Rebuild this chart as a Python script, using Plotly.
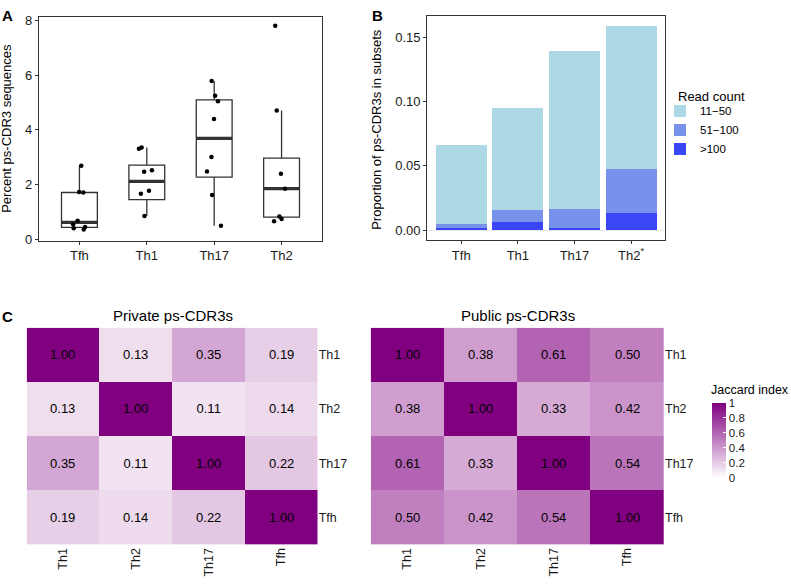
import plotly.graph_objects as go

W, H = 791, 586
FONT = "Liberation Sans, Arial, sans-serif"

# ---------- Panel A data ----------
subsets_a = ["Tfh", "Th1", "Th17", "Th2"]
box_q1 = [0.43, 1.45, 2.27, 0.81]
box_median = [0.62, 2.12, 3.69, 1.85]
box_q3 = [1.71, 2.71, 5.10, 2.97]
box_lower = [0.43, 0.85, 0.49, 0.81]
box_upper = [2.70, 3.36, 5.79, 4.71]
pts_tfh = [2.69, 1.73, 1.71, 0.68, 0.55, 0.45, 0.40, 0.36]
pts_th1 = [3.36, 3.31, 2.52, 2.47, 1.77, 1.66, 0.85]
pts_th17 = [5.79, 5.25, 5.05, 4.40, 3.01, 2.48, 1.62, 0.49]
pts_th2 = [7.81, 4.71, 2.40, 1.85, 0.83, 0.74, 0.66]

# ---------- Panel B data ----------
subsets_b = ["Tfh", "Th1", "Th17", "Th2"]
subset_b_labels = ["Tfh", "Th1", "Th17", "Th2<sup>*</sup>"]
read_gt100 = [0.0012, 0.0060, 0.0018, 0.0133]
read_51_100 = [0.0033, 0.0093, 0.0145, 0.0341]
read_11_50 = [0.0616, 0.0801, 0.1235, 0.1113]

# ---------- Panel C data ----------
subsets_c = ["Th1", "Th2", "Th17", "Tfh"]
jaccard_private = [
    [1.00, 0.13, 0.35, 0.19],
    [0.13, 1.00, 0.11, 0.14],
    [0.35, 0.11, 1.00, 0.22],
    [0.19, 0.14, 0.22, 1.00],
]
jaccard_public = [
    [1.00, 0.38, 0.61, 0.50],
    [0.38, 1.00, 0.33, 0.42],
    [0.61, 0.33, 1.00, 0.54],
    [0.50, 0.42, 0.54, 1.00],
]
jaccard_ticks = [0, 0.2, 0.4, 0.6, 0.8, 1]
jaccard_ticktext = ["0", "0.2", "0.4", "0.6", "0.8", "1"]


def px_x(p):
    return p / W


def px_y(p):
    return 1 - p / H


fig = go.Figure()

# Panel A boxes
fig.add_trace(go.Box(
    x=subsets_a, q1=box_q1, median=box_median, q3=box_q3,
    lowerfence=box_lower, upperfence=box_upper,
    boxpoints=False, whiskerwidth=0, fillcolor="white",
    line=dict(color="#333333", width=1.3),
    xaxis="x", yaxis="y", showlegend=False, hoverinfo="skip",
))
# thick median lines
fig.add_trace(go.Box(
    x=subsets_a, q1=box_median, median=box_median, q3=box_median,
    lowerfence=box_median, upperfence=box_median,
    boxpoints=False, whiskerwidth=0, fillcolor="rgba(0,0,0,0)",
    line=dict(color="#333333", width=3.2),
    xaxis="x", yaxis="y", showlegend=False, hoverinfo="skip",
))
# jittered points
all_pts = pts_tfh + pts_th1 + pts_th17 + pts_th2
all_cats = (["Tfh"] * len(pts_tfh) + ["Th1"] * len(pts_th1)
            + ["Th17"] * len(pts_th17) + ["Th2"] * len(pts_th2))
fig.add_trace(go.Box(
    x=all_cats, y=all_pts, boxpoints="all", jitter=0.5, pointpos=0,
    fillcolor="rgba(0,0,0,0)", line=dict(color="rgba(0,0,0,0)", width=0),
    marker=dict(color="black", size=4.5),
    xaxis="x", yaxis="y", showlegend=False,
))

# Panel B stacked bars
bar_specs = [(">100", read_gt100, "#3B47F6"),
             ("51\u2212100", read_51_100, "#7892EC"),
             ("11\u221250", read_11_50, "#ADD8E6")]
for name, vals, col in bar_specs:
    fig.add_trace(go.Bar(
        x=subsets_b, y=vals, name=name, marker=dict(color=col, line=dict(width=0)),
        xaxis="x2", yaxis="y2", showlegend=True,
    ))

# Panel C heatmaps
for z, xa, ya in [(jaccard_private, "x3", "y3"), (jaccard_public, "x4", "y4")]:
    fig.add_trace(go.Heatmap(
        z=z, x=subsets_c, y=subsets_c, coloraxis="coloraxis",
        texttemplate="%{z:.2f}", textfont=dict(size=13, color="black", family=FONT),
        xaxis=xa, yaxis=ya, hoverinfo="skip",
    ))

axis_common = dict(showline=True, mirror=True, linecolor="#333333", linewidth=1.3,
                   ticks="outside", ticklen=3, tickcolor="#333333", tickwidth=1,
                   showgrid=False,
                   tickfont=dict(size=13, color="#1a1a1a", family=FONT))

hm_x = dict(showline=False, ticks="", showgrid=False, zeroline=False, tickangle=-90,
            tickfont=dict(size=12.5, color="#1a1a1a", family=FONT),
            categoryorder="array", categoryarray=subsets_c)
hm_y = dict(showline=False, ticks="", showgrid=False, zeroline=False, side="right",
            autorange="reversed", tickfont=dict(size=12.5, color="#1a1a1a", family=FONT),
            categoryorder="array", categoryarray=subsets_c)

fig.update_layout(
    width=W, height=H, margin=dict(l=0, r=0, t=0, b=0),
    paper_bgcolor="white", plot_bgcolor="white",
    font=dict(family=FONT, color="black"),
    boxmode="overlay", boxgap=0.24,
    barmode="stack", bargap=0.1,
    xaxis=dict(domain=[px_x(39), px_x(322)], anchor="y", type="category",
               categoryorder="array", categoryarray=subsets_a, range=[-0.6, 3.6],
               zeroline=False, **axis_common),
    yaxis=dict(domain=[px_y(240.7), px_y(13.3)], anchor="x", range=[-0.05, 8.13],
               tickvals=[0, 2, 4, 6, 8], zeroline=False, **axis_common),
    xaxis2=dict(domain=[px_x(427.3), px_x(665)], anchor="y2", type="category",
                categoryorder="array", categoryarray=subsets_b, range=[-0.6, 3.6],
                tickvals=subsets_b, ticktext=subset_b_labels, zeroline=False, **axis_common),
    yaxis2=dict(domain=[px_y(240), px_y(12.3)], anchor="x2", range=[-0.0077, 0.1666],
                tickvals=[0, 0.05, 0.10, 0.15], ticktext=["0.00", "0.05", "0.10", "0.15"],
                zeroline=True, zerolinecolor="#e6e6e6", zerolinewidth=1, **axis_common),
    xaxis3=dict(domain=[px_x(26.7), px_x(317.7)], anchor="y3", **hm_x),
    yaxis3=dict(domain=[px_y(550), px_y(329.3)], anchor="x3", **hm_y),
    xaxis4=dict(domain=[px_x(370.7), px_x(664)], anchor="y4", **hm_x),
    yaxis4=dict(domain=[px_y(550), px_y(329.3)], anchor="x4", **hm_y),
    coloraxis=dict(
        colorscale=[[0, "#FFFFFF"], [1, "#800080"]], cmin=0, cmax=1,
        colorbar=dict(
            x=px_x(712), xanchor="left", y=px_y(444), yanchor="middle",
            len=75, lenmode="pixels", thickness=14, thicknessmode="pixels",
            outlinewidth=0, xpad=0, ypad=0,
            tickvals=jaccard_ticks, ticktext=jaccard_ticktext,
            ticks="inside", ticklen=3, tickcolor="white", tickwidth=1,
            tickfont=dict(size=11.5, color="#1a1a1a", family=FONT),
        ),
    ),
    legend=dict(
        x=px_x(660), y=px_y(94), xanchor="left", yanchor="top",
        traceorder="reversed", bgcolor="rgba(0,0,0,0)",
        font=dict(size=11.5, family=FONT), itemwidth=30,
    ),
)

annos = [
    dict(text="<b>A</b>", x=px_x(0), y=px_y(1), xanchor="left", yanchor="top", font=dict(size=15)),
    dict(text="<b>B</b>", x=px_x(370), y=px_y(1), xanchor="left", yanchor="top", font=dict(size=15)),
    dict(text="<b>C</b>", x=px_x(0), y=px_y(307), xanchor="left", yanchor="top", font=dict(size=15)),
    dict(text="Percent ps-CDR3 sequences", x=px_x(7), y=px_y(127), textangle=-90,
         xanchor="center", yanchor="middle", font=dict(size=13)),
    dict(text="Proportion of ps-CDR3s in subsets", x=px_x(377), y=px_y(128), textangle=-90,
         xanchor="center", yanchor="middle", font=dict(size=13)),
    dict(text="Private ps-CDR3s", x=px_x(173), y=px_y(317), xanchor="center", yanchor="middle",
         font=dict(size=15)),
    dict(text="Public ps-CDR3s", x=px_x(518), y=px_y(317), xanchor="center", yanchor="middle",
         font=dict(size=15)),
    dict(text="Read count", x=px_x(676), y=px_y(94), xanchor="left", yanchor="middle",
         font=dict(size=13)),
    dict(text="Jaccard index", x=px_x(709), y=px_y(393), xanchor="left", yanchor="middle",
         font=dict(size=12.5)),
]
for a in annos:
    a.update(xref="paper", yref="paper", showarrow=False)
    a["font"] = dict(family=FONT, color="black", **a["font"])
fig.update_layout(annotations=annos)

fig.write_html("out.html", config={"displayModeBar": False},
               post_script="document.body.style.margin='0px';")
